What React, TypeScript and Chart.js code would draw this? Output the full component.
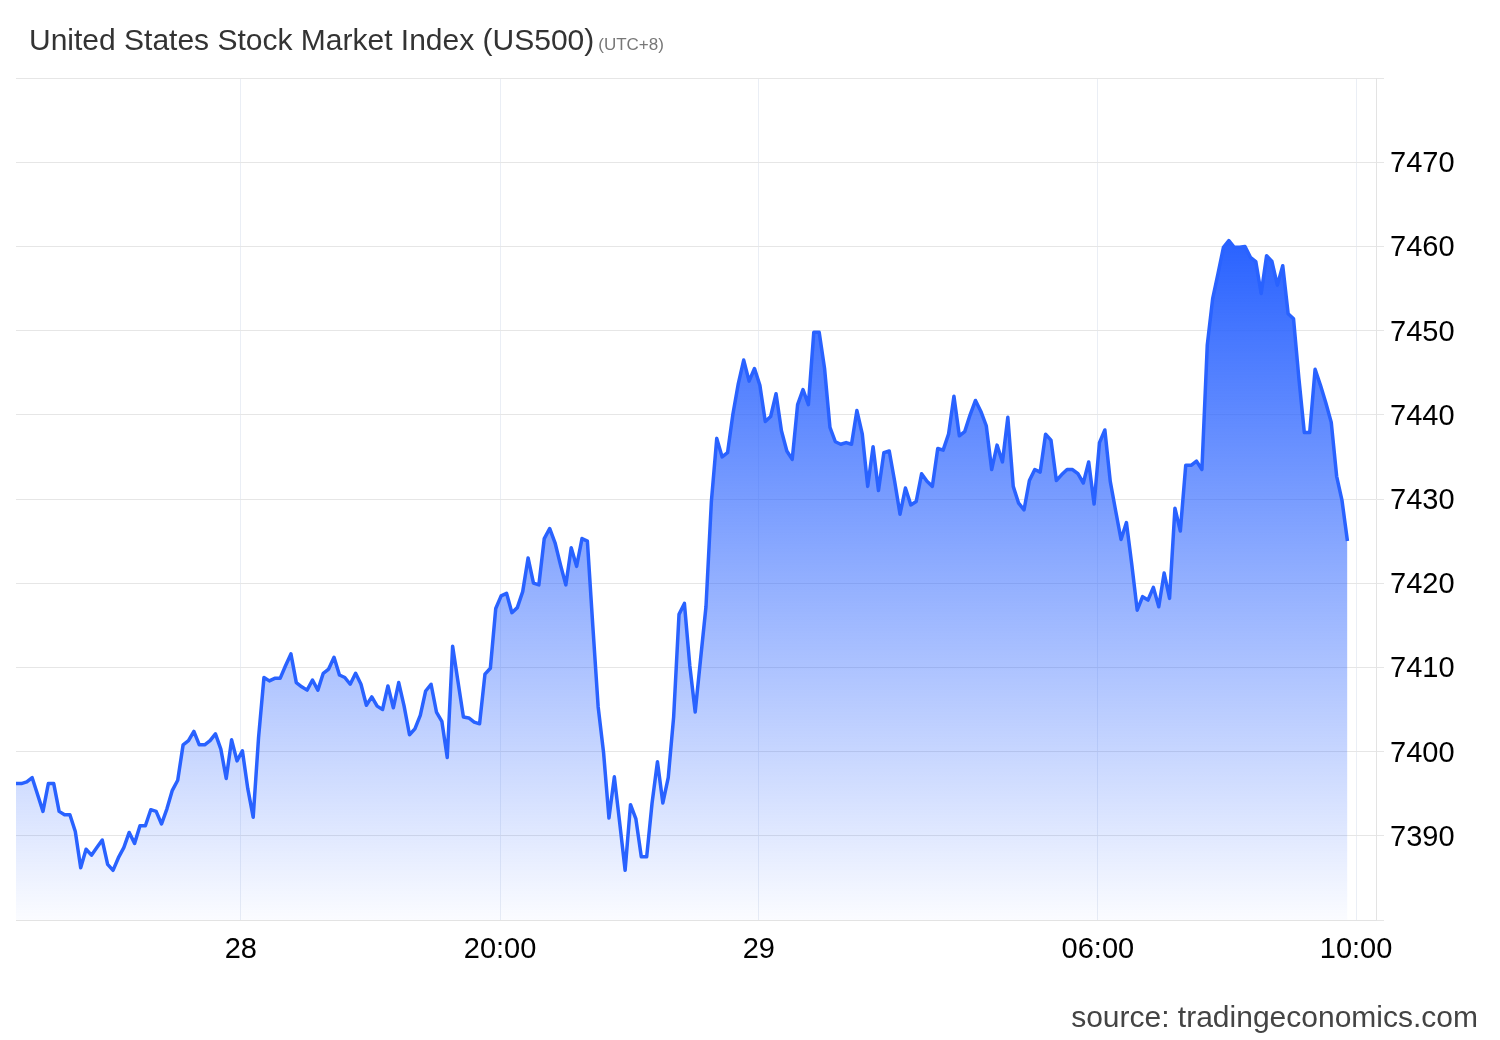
import { useEffect, useRef } from "react";
import { Chart, registerables } from "chart.js";

Chart.register(...registerables);

// US500, 5 minute closes
const prices = [
  7396.2, 7396.2, 7396.4, 7396.9, 7394.9, 7392.9, 7396.2, 7396.2, 7392.9, 7392.5,
  7392.5, 7390.5, 7386.2, 7388.4, 7387.7, 7388.6, 7389.5, 7386.6, 7385.9, 7387.4,
  7388.6, 7390.4, 7389.1, 7391.2, 7391.2, 7393.1, 7392.9, 7391.4, 7393.2, 7395.4,
  7396.6, 7400.8, 7401.3, 7402.4, 7400.8, 7400.8, 7401.3, 7402.1, 7400.3, 7396.8,
  7401.4, 7398.9, 7400.1, 7395.6, 7392.2, 7401.7, 7408.8, 7408.4, 7408.7, 7408.7,
  7410.2, 7411.6, 7408.2, 7407.7, 7407.3, 7408.5, 7407.3, 7409.3, 7409.8, 7411.2,
  7409.1, 7408.8, 7408.0, 7409.3, 7408.0, 7405.5, 7406.5, 7405.4, 7405.0, 7407.8,
  7405.2, 7408.2, 7405.4, 7402.0, 7402.7, 7404.3, 7407.2, 7408.0, 7404.7, 7403.6,
  7399.3, 7412.5, 7408.3, 7404.1, 7404.0, 7403.5, 7403.3, 7409.2, 7409.9, 7417.0,
  7418.5, 7418.8, 7416.5, 7417.1, 7419.0, 7423.0, 7420.0, 7419.8, 7425.3, 7426.5,
  7424.8, 7422.2, 7419.8, 7424.2, 7422.0, 7425.3, 7425.0, 7415.0, 7405.3, 7399.9,
  7392.1, 7397.0, 7391.5, 7385.9, 7393.7, 7392.0, 7387.5, 7387.5, 7393.9, 7398.8,
  7393.9, 7396.9, 7404.1, 7416.3, 7417.6, 7410.2, 7404.7, 7411.0, 7417.2, 7429.7,
  7437.2, 7435.0, 7435.5, 7440.1, 7443.7, 7446.5, 7444.0, 7445.5, 7443.5, 7439.2,
  7439.8, 7442.5, 7438.1, 7435.7, 7434.7, 7441.2, 7443.0, 7441.2, 7449.8, 7449.8,
  7445.5, 7438.5, 7436.8, 7436.5, 7436.7, 7436.5, 7440.5, 7437.7, 7431.5, 7436.2,
  7431.0, 7435.5, 7435.7, 7432.1, 7428.2, 7431.3, 7429.3, 7429.7, 7433.0, 7432.1,
  7431.5, 7436.0, 7435.8, 7437.7, 7442.2, 7437.5, 7438.0, 7440.0, 7441.7, 7440.4,
  7438.7, 7433.5, 7436.4, 7434.4, 7439.7, 7431.5, 7429.5, 7428.7, 7432.2, 7433.5,
  7433.2, 7437.7, 7437.0, 7432.2, 7432.9, 7433.5, 7433.5, 7433.0, 7431.9, 7434.4,
  7429.4, 7436.7, 7438.2, 7432.1, 7428.6, 7425.2, 7427.2, 7422.2, 7416.8, 7418.4,
  7418.0, 7419.5, 7417.2, 7421.2, 7418.2, 7428.9, 7426.2, 7434.0, 7434.0, 7434.5,
  7433.5, 7448.3, 7453.8, 7456.8, 7459.9, 7460.7, 7459.9, 7459.9, 7460.0, 7458.7,
  7458.2, 7454.4, 7458.9, 7458.2, 7455.4, 7457.7, 7452.0, 7451.4, 7444.3, 7437.9,
  7437.9, 7445.4, 7443.5, 7441.4, 7439.1, 7432.7, 7429.8, 7425.0,
];

// x axis is bar index (trading gaps are left out), labels sit between bars
const tickPositions = [41.7, 89.8, 137.8, 200.7, 248.6];
const tickLabels = ["28", "20:00", "29", "06:00", "10:00"];
const xMax = 252.3;

const yMin = 7380;
const yMax = 7480;
const yStep = 10;

const font = '"Liberation Sans", Arial, Helvetica, sans-serif';
const lineBlue = "#2962ff";

function PriceChart() {
  const canvasRef = useRef<HTMLCanvasElement | null>(null);

  useEffect(() => {
    const ctx = canvasRef.current?.getContext("2d");
    if (!ctx) return;

    const chart = new Chart(ctx, {
      type: "line",
      data: {
        datasets: [
          {
            data: prices.map((y, x) => ({ x, y })),
            borderColor: lineBlue,
            borderWidth: 3.5,
            borderJoinStyle: "round",
            pointRadius: 0,
            pointHoverRadius: 0,
            tension: 0,
            fill: "start",
            backgroundColor: (c: any) => {
              const { chartArea, scales } = c.chart;
              if (!chartArea) return "rgba(41,98,255,0.3)";
              const top = scales.y.getPixelForValue(Math.max(...prices));
              const g = c.chart.ctx.createLinearGradient(0, top, 0, chartArea.bottom);
              g.addColorStop(0, "rgba(41,98,255,1)");
              g.addColorStop(1, "rgba(41,98,255,0.02)");
              return g;
            },
          },
        ],
      },
      options: {
        responsive: false,
        animation: false,
        layout: { padding: { left: 16, top: 78, right: 0, bottom: 0 } },
        plugins: {
          legend: { display: false },
          tooltip: { enabled: false },
        },
        scales: {
          x: {
            type: "linear",
            min: 0,
            max: xMax,
            afterBuildTicks: (axis: any) => {
              axis.ticks = tickPositions.map((value) => ({ value }));
            },
            afterFit: (axis: any) => {
              axis.height = 120;
            },
            grid: { color: "#eaeef5", drawTicks: false },
            border: { color: "#e3e3e3" },
            ticks: {
              autoSkip: false,
              maxRotation: 0,
              padding: 13,
              color: "#000",
              font: { family: font, size: 29 },
              callback: (_v: any, i: number) => tickLabels[i],
            },
          },
          y: {
            position: "right",
            min: yMin,
            max: yMax,
            afterFit: (axis: any) => {
              axis.width = 124;
            },
            grid: { color: "#e6e6e6", tickLength: 8 },
            border: { color: "#e3e3e3" },
            ticks: {
              stepSize: yStep,
              padding: 6,
              labelOffset: 2,
              color: "#000",
              font: { family: font, size: 29 },
              callback: (v: any) => (v === yMin || v === yMax ? "" : String(v)),
            },
          },
        },
      },
    });

    return () => chart.destroy();
  }, []);

  return (
    <canvas
      ref={canvasRef}
      width={1500}
      height={1040}
      style={{ position: "absolute", left: 0, top: 0, display: "block" }}
    />
  );
}

export default function App() {
  return (
    <div
      style={{
        position: "fixed",
        left: 0,
        top: 0,
        width: 1500,
        height: 1040,
        background: "#fff",
        fontFamily: font,
      }}
    >
      <PriceChart />
      <div
        style={{
          position: "absolute",
          left: 29,
          top: 25,
          fontSize: 30,
          lineHeight: "30px",
          color: "#333",
          whiteSpace: "nowrap",
        }}
      >
        United States Stock Market Index (US500)
        <span style={{ fontSize: 17, color: "#777", marginLeft: 4 }}>(UTC+8)</span>
      </div>
      <div
        style={{
          position: "absolute",
          right: 22,
          top: 1002,
          fontSize: 30,
          lineHeight: "30px",
          color: "#444",
          whiteSpace: "nowrap",
        }}
      >
        source: tradingeconomics.com
      </div>
    </div>
  );
}
